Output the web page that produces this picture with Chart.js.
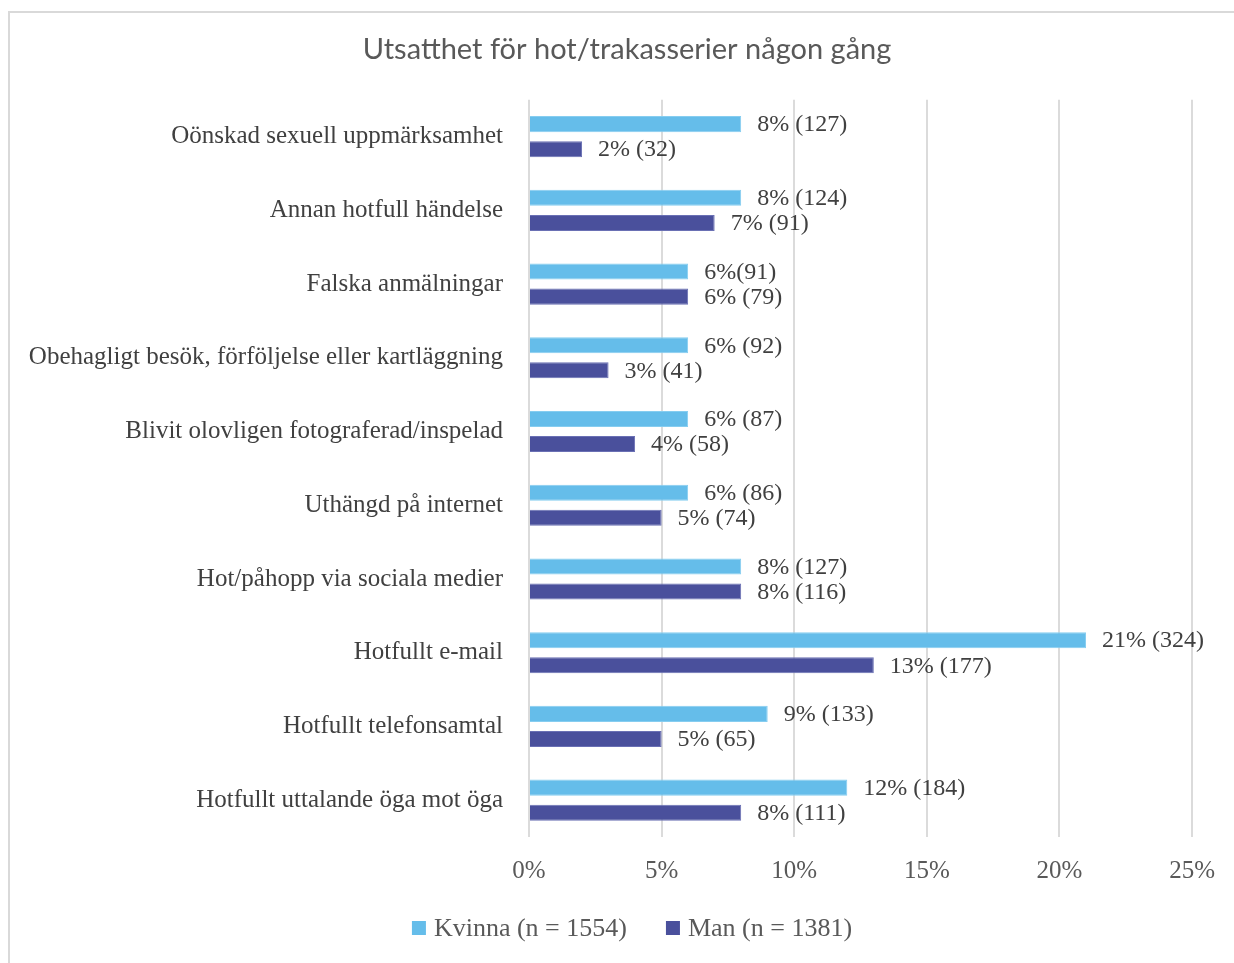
<!DOCTYPE html>
<html>
<head>
<meta charset="utf-8">
<script src="https://cdn.jsdelivr.net/npm/chart.js@4/dist/chart.umd.min.js"></script>
<style>
  html, body { margin: 0; padding: 0; background: #fff; }
  #wrap { position: relative; width: 1234px; height: 963px; }
</style>
</head>
<body>
<div id="wrap"><canvas id="chart"></canvas></div>
<script>
// Data
const categories = [
    'Oönskad sexuell uppmärksamhet',
    'Annan hotfull händelse',
    'Falska anmälningar',
    'Obehagligt besök, förföljelse eller kartläggning',
    'Blivit olovligen fotograferad/inspelad',
    'Uthängd på internet',
    'Hot/påhopp via sociala medier',
    'Hotfullt e-mail',
    'Hotfullt telefonsamtal',
    'Hotfullt uttalande öga mot öga'
];
const kvinnaPct = [8, 8, 6, 6, 6, 6, 8, 21, 9, 12];
const kvinnaLabels = ['8% (127)', '8% (124)', '6%(91)', '6% (92)', '6% (87)', '6% (86)', '8% (127)', '21% (324)', '9% (133)', '12% (184)'];
const manPct = [2, 7, 6, 3, 4, 5, 8, 13, 5, 8];
const manLabels = ['2% (32)', '7% (91)', '6% (79)', '3% (41)', '4% (58)', '5% (74)', '8% (116)', '13% (177)', '5% (65)', '8% (111)'];
const xTicks = [0, 5, 10, 15, 20, 25];

const serif = '"Liberation Serif", "DejaVu Serif", serif';

// Frame round the chart + let the long category labels reach past the padding
const framePlugin = {
    id: 'frame',
    afterLayout(chart) {
        chart.scales.y.left = 0;
    },
    beforeDraw(chart) {
        const ctx = chart.ctx;
        ctx.save();
        ctx.strokeStyle = '#d9d9d9';
        ctx.lineWidth = 2;
        ctx.beginPath();
        ctx.moveTo(9, 970);
        ctx.lineTo(9, 12);
        ctx.lineTo(1240, 12);
        ctx.stroke();
        ctx.restore();
    }
};

// Value labels at the end of every bar
const valueLabels = {
    id: 'valueLabels',
    afterDatasetsDraw(chart) {
        const ctx = chart.ctx;
        ctx.save();
        ctx.font = '24px ' + serif;
        ctx.fillStyle = '#404040';
        ctx.textAlign = 'left';
        ctx.textBaseline = 'middle';
        chart.data.datasets.forEach((ds, i) => {
            const meta = chart.getDatasetMeta(i);
            meta.data.forEach((bar, j) => {
                ctx.fillText(ds.valueText[j], bar.x + 16, bar.y + 1);
            });
        });
        ctx.restore();
    }
};

// Legend under the axis
const bottomLegend = {
    id: 'bottomLegend',
    afterDraw(chart) {
        const ctx = chart.ctx;
        const box = 14, gap = 8, itemGap = 39, cy = 928, cx = 632;
        ctx.save();
        ctx.font = '26px ' + serif;
        ctx.textBaseline = 'middle';
        ctx.textAlign = 'left';
        const items = chart.data.datasets.map(ds => ({
            text: ds.label,
            color: ds.backgroundColor,
            w: box + gap + ctx.measureText(ds.label).width
        }));
        const total = items.reduce((s, it) => s + it.w, 0) + itemGap * (items.length - 1);
        let x = cx - total / 2;
        items.forEach(it => {
            ctx.fillStyle = it.color;
            ctx.fillRect(x, cy - box / 2, box, box);
            ctx.fillStyle = '#595959';
            ctx.fillText(it.text, x + box + gap, cy + 1);
            x += it.w + itemGap;
        });
        ctx.restore();
    }
};

const ctx = document.getElementById('chart').getContext('2d');
new Chart(ctx, {
    type: 'bar',
    data: {
        labels: categories,
        datasets: [{
            label: 'Kvinna (n = 1554)',
            data: kvinnaPct,
            valueText: kvinnaLabels,
            backgroundColor: '#65bdea',
            borderColor: '#86cdf0',
            borderWidth: 1,
            categoryPercentage: 0.68,
            barPercentage: 0.64
        }, {
            label: 'Man (n = 1381)',
            data: manPct,
            valueText: manLabels,
            backgroundColor: '#4a509c',
            borderColor: '#6a70b4',
            borderWidth: 1,
            categoryPercentage: 0.68,
            barPercentage: 0.64
        }]
    },
    options: {
        indexAxis: 'y',
        responsive: true,
        maintainAspectRatio: false,
        animation: false,
        layout: {
            padding: { left: 61, right: 41, top: 0, bottom: 56 }
        },
        plugins: {
            title: {
                display: true,
                text: 'Utsatthet för hot/trakasserier någon gång',
                color: '#595959',
                font: { family: 'Lato, "Open Sans", sans-serif', size: 29, weight: 'normal' },
                padding: { top: 32, bottom: 33 }
            },
            legend: { display: false },
            tooltip: { enabled: false }
        },
        scales: {
            x: {
                min: 0,
                max: 25,
                z: 1,
                afterBuildTicks(scale) {
                    scale.ticks = xTicks.map(v => ({ value: v }));
                },
                afterFit(scale) {
                    scale.height = 70;
                },
                grid: { color: 'rgba(0,0,0,0.14)', lineWidth: 2, drawTicks: false },
                border: { display: false },
                ticks: {
                    color: '#595959',
                    font: { family: serif, size: 25 },
                    padding: 19,
                    callback: v => v + '%'
                }
            },
            y: {
                afterFit(scale) {
                    scale.width = 529 - 61;
                },
                grid: { display: false, drawTicks: false },
                border: { display: false },
                ticks: {
                    autoSkip: false,
                    color: '#404040',
                    font: { family: serif, size: 25 },
                    padding: 26
                }
            }
        }
    },
    plugins: [framePlugin, valueLabels, bottomLegend]
});
</script>
</body>
</html>
